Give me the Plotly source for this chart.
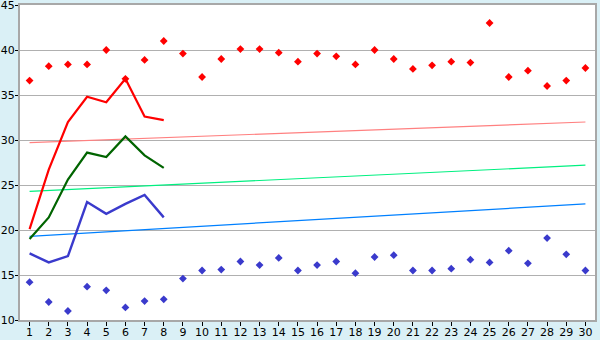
import plotly.graph_objects as go

days = list(range(1, 31))

red_points = [36.6, 38.2, 38.4, 38.4, 40.0, 36.8, 38.9, 41.0, 39.6, 37.0,
              39.0, 40.1, 40.1, 39.7, 38.7, 39.6, 39.3, 38.4, 40.0, 39.0,
              37.9, 38.3, 38.7, 38.6, 43.0, 37.0, 37.7, 36.0, 36.6, 38.0]
blue_points = [14.2, 12.0, 11.0, 13.7, 13.3, 11.4, 12.1, 12.3, 14.6, 15.5,
               15.6, 16.5, 16.1, 16.9, 15.5, 16.1, 16.5, 15.2, 17.0, 17.2,
               15.5, 15.5, 15.7, 16.7, 16.4, 17.7, 16.3, 19.1, 17.3, 15.5]

line_days = [1, 2, 3, 4, 5, 6, 7, 8]
red_line = [20.1, 26.7, 32.0, 34.8, 34.2, 36.8, 32.6, 32.2]
green_line = [19.0, 21.4, 25.6, 28.6, 28.1, 30.4, 28.3, 26.9]
blue_line = [17.4, 16.4, 17.1, 23.1, 21.8, 22.9, 23.9, 21.4]

trend_days = [1, 30]
red_trend = [29.7, 32.0]
green_trend = [24.3, 27.2]
blue_trend = [19.3, 22.9]

fig = go.Figure()

fig.add_trace(go.Scatter(x=trend_days, y=red_trend, mode="lines",
                         line=dict(color="#ff8080", width=1.2)))
fig.add_trace(go.Scatter(x=trend_days, y=green_trend, mode="lines",
                         line=dict(color="#00f080", width=1.2)))
fig.add_trace(go.Scatter(x=trend_days, y=blue_trend, mode="lines",
                         line=dict(color="#0080ff", width=1.2)))

fig.add_trace(go.Scatter(x=line_days, y=red_line, mode="lines",
                         line=dict(color="#ff0000", width=2.2)))
fig.add_trace(go.Scatter(x=line_days, y=green_line, mode="lines",
                         line=dict(color="#006400", width=2.2)))
fig.add_trace(go.Scatter(x=line_days, y=blue_line, mode="lines",
                         line=dict(color="#3a3acc", width=2.4)))

fig.add_trace(go.Scatter(x=days, y=red_points, mode="markers",
                         marker=dict(symbol="diamond", size=6, color="#ff0000",
                                     line=dict(width=0))))
fig.add_trace(go.Scatter(x=days, y=blue_points, mode="markers",
                         marker=dict(symbol="diamond", size=6, color="#3a3acc",
                                     line=dict(width=0))))

fig.update_layout(
    width=600, height=340,
    margin=dict(l=20, r=5, t=5, b=20, autoexpand=False),
    paper_bgcolor="#daf0f6",
    plot_bgcolor="#ffffff",
    showlegend=False,
    font=dict(family="DejaVu Sans", size=11, color="#000000"),
)
fig.update_xaxes(
    range=[0.5, 30.5], tickmode="linear", tick0=1, dtick=1,
    showgrid=False, zeroline=False, automargin=False,
    ticks="outside", ticklen=4, tickcolor="#000000", tickwidth=1,
    ticklabelstandoff=-3, ticklabeloverflow="allow",
    showline=True, linecolor="#a8a8a8", linewidth=2, mirror=True,
    tickfont=dict(size=11),
)
fig.update_yaxes(
    range=[10, 45], tickmode="linear", tick0=10, dtick=5,
    showgrid=True, gridcolor="#b0b0b0", gridwidth=1, zeroline=False, automargin=False,
    ticks="outside", ticklen=3, tickcolor="#000000", tickwidth=1,
    ticklabelstandoff=-2, ticklabeloverflow="allow",
    showline=True, linecolor="#a8a8a8", linewidth=2, mirror=True,
    tickfont=dict(size=11),
)

fig.write_html("out.html")
